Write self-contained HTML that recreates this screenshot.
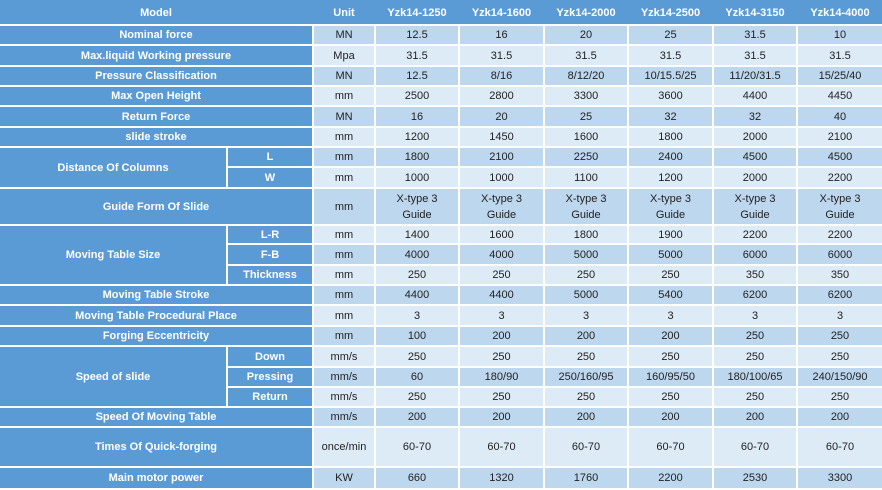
<!DOCTYPE html>
<html><head><meta charset="utf-8"><style>
html,body{margin:0;padding:0;background:#fff;}
table{border-collapse:collapse;table-layout:fixed;width:882px;font-family:"Liberation Sans",sans-serif;font-size:11px;border:0;}
td{border:2px solid #fff;text-align:center;padding:0;color:#222;line-height:16px;overflow:hidden;}
td.h{background:#5b9bd5;color:#fff;font-weight:bold;}
tr.d td{background:#bdd7ee;}
tr.l td{background:#ddebf7;}
tr td.h{background:#5b9bd5;}
tr.hd td{background:#5b9bd5;color:#fff;font-weight:bold;border-color:#5b9bd5;border-bottom-color:#fff;}
tr td:first-child{border-left:0;}
tr td:last-child{border-right:0;}
</style></head><body>
<table>
<colgroup><col style="width:227px"><col style="width:86px"><col style="width:62px"><col style="width:84px"><col style="width:85px"><col style="width:84px"><col style="width:85px"><col style="width:84px"><col style="width:85px"></colgroup>
<tr class="hd" style="height:24px"><td colspan="2">Model</td><td>Unit</td><td>Yzk14-1250</td><td>Yzk14-1600</td><td>Yzk14-2000</td><td>Yzk14-2500</td><td>Yzk14-3150</td><td>Yzk14-4000</td></tr>
<tr class="d" style="height:20px"><td class="h" colspan="2">Nominal force</td><td>MN</td><td>12.5</td><td>16</td><td>20</td><td>25</td><td>31.5</td><td>10</td></tr>
<tr class="l" style="height:21px"><td class="h" colspan="2">Max.liquid Working pressure</td><td>Mpa</td><td>31.5</td><td>31.5</td><td>31.5</td><td>31.5</td><td>31.5</td><td>31.5</td></tr>
<tr class="d" style="height:20px"><td class="h" colspan="2">Pressure Classification</td><td>MN</td><td>12.5</td><td>8/16</td><td>8/12/20</td><td>10/15.5/25</td><td>11/20/31.5</td><td>15/25/40</td></tr>
<tr class="l" style="height:20px"><td class="h" colspan="2">Max Open Height</td><td>mm</td><td>2500</td><td>2800</td><td>3300</td><td>3600</td><td>4400</td><td>4450</td></tr>
<tr class="d" style="height:21px"><td class="h" colspan="2">Return Force</td><td>MN</td><td>16</td><td>20</td><td>25</td><td>32</td><td>32</td><td>40</td></tr>
<tr class="l" style="height:20px"><td class="h" colspan="2">slide stroke</td><td>mm</td><td>1200</td><td>1450</td><td>1600</td><td>1800</td><td>2000</td><td>2100</td></tr>
<tr class="d" style="height:20px"><td class="h" rowspan="2">Distance Of Columns</td><td class="h">L</td><td>mm</td><td>1800</td><td>2100</td><td>2250</td><td>2400</td><td>4500</td><td>4500</td></tr>
<tr class="l" style="height:21px"><td class="h">W</td><td>mm</td><td>1000</td><td>1000</td><td>1100</td><td>1200</td><td>2000</td><td>2200</td></tr>
<tr class="d" style="height:37px"><td class="h" colspan="2">Guide Form Of Slide</td><td>mm</td><td>X-type 3<br>Guide</td><td>X-type 3<br>Guide</td><td>X-type 3<br>Guide</td><td>X-type 3<br>Guide</td><td>X-type 3<br>Guide</td><td>X-type 3<br>Guide</td></tr>
<tr class="l" style="height:19px"><td class="h" rowspan="3">Moving Table Size</td><td class="h">L-R</td><td>mm</td><td>1400</td><td>1600</td><td>1800</td><td>1900</td><td>2200</td><td>2200</td></tr>
<tr class="d" style="height:21px"><td class="h">F-B</td><td>mm</td><td>4000</td><td>4000</td><td>5000</td><td>5000</td><td>6000</td><td>6000</td></tr>
<tr class="l" style="height:20px"><td class="h">Thickness</td><td>mm</td><td>250</td><td>250</td><td>250</td><td>250</td><td>350</td><td>350</td></tr>
<tr class="d" style="height:20px"><td class="h" colspan="2">Moving Table Stroke</td><td>mm</td><td>4400</td><td>4400</td><td>5000</td><td>5400</td><td>6200</td><td>6200</td></tr>
<tr class="l" style="height:21px"><td class="h" colspan="2">Moving Table Procedural Place</td><td>mm</td><td>3</td><td>3</td><td>3</td><td>3</td><td>3</td><td>3</td></tr>
<tr class="d" style="height:20px"><td class="h" colspan="2">Forging Eccentricity</td><td>mm</td><td>100</td><td>200</td><td>200</td><td>200</td><td>250</td><td>250</td></tr>
<tr class="l" style="height:21px"><td class="h" rowspan="3">Speed of slide</td><td class="h">Down</td><td>mm/s</td><td>250</td><td>250</td><td>250</td><td>250</td><td>250</td><td>250</td></tr>
<tr class="d" style="height:20px"><td class="h">Pressing</td><td>mm/s</td><td>60</td><td>180/90</td><td>250/160/95</td><td>160/95/50</td><td>180/100/65</td><td>240/150/90</td></tr>
<tr class="l" style="height:20px"><td class="h">Return</td><td>mm/s</td><td>250</td><td>250</td><td>250</td><td>250</td><td>250</td><td>250</td></tr>
<tr class="d" style="height:20px"><td class="h" colspan="2">Speed Of Moving Table</td><td>mm/s</td><td>200</td><td>200</td><td>200</td><td>200</td><td>200</td><td>200</td></tr>
<tr class="l" style="height:40px"><td class="h" colspan="2">Times Of Quick-forging</td><td>once/min</td><td>60-70</td><td>60-70</td><td>60-70</td><td>60-70</td><td>60-70</td><td>60-70</td></tr>
<tr class="d" style="height:22px"><td class="h" colspan="2">Main motor power</td><td>KW</td><td>660</td><td>1320</td><td>1760</td><td>2200</td><td>2530</td><td>3300</td></tr>
</table>
</body></html>
